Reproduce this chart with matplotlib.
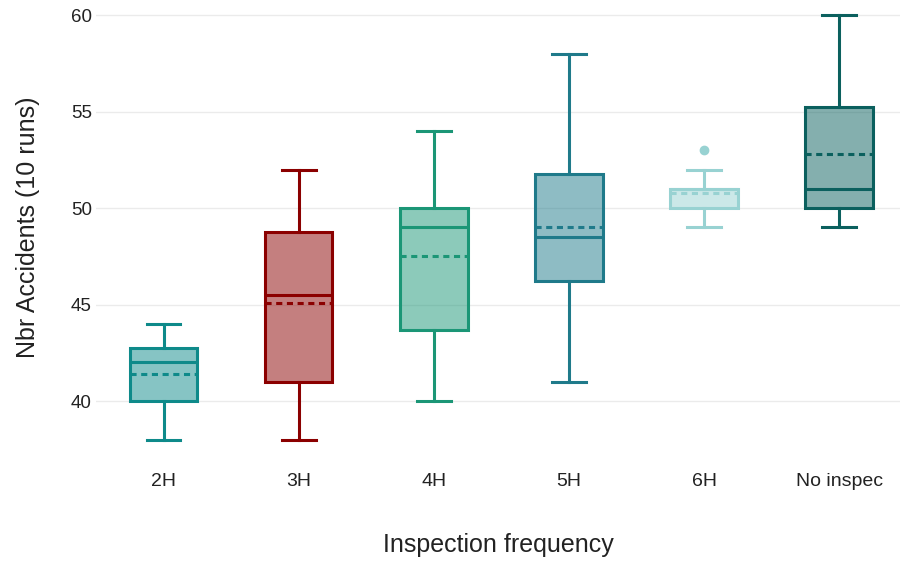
import matplotlib
matplotlib.use("Agg")
import matplotlib.pyplot as plt
from matplotlib.colors import to_rgba

categories = ["2H", "3H", "4H", "5H", "6H", "No inspec"]
whislo = [38, 38, 40, 41, 49, 49]
q1 = [40, 41, 43.7, 46.2, 50, 50]
med = [42, 45.5, 49, 48.5, 51, 51]
mean = [41.4, 45.1, 47.5, 49.0, 50.8, 52.8]
q3 = [42.75, 48.75, 50, 51.75, 51, 55.25]
whishi = [44, 52, 54, 58, 52, 60]
outliers = [[], [], [], [], [53], []]
colors = ["#0e8a8a", "#8b0000", "#1b9676", "#1f7a8a", "#98d2d2", "#0b605e"]

plt.rcParams['font.family'] = ['Liberation Sans', 'DejaVu Sans']

fig = plt.figure(figsize=(9, 5.63), dpi=100)
ax = fig.add_axes([96/900, (563-455)/563, 1 - 96/900, 455/563])

for i, cat in enumerate(categories):
    st = [dict(label=cat, whislo=whislo[i], q1=q1[i], med=med[i], mean=mean[i],
               q3=q3[i], whishi=whishi[i], fliers=outliers[i])]
    c = colors[i]
    ax.bxp(st, positions=[i], widths=0.5, patch_artist=True, showmeans=True, meanline=True,
           boxprops=dict(facecolor=to_rgba(c, 0.5), edgecolor=c, linewidth=2.2),
           medianprops=dict(color=c, linewidth=2.2),
           meanprops=dict(color=c, linewidth=2.2, linestyle=(0, (2, 1.5))),
           whiskerprops=dict(color=c, linewidth=2.2),
           capprops=dict(color=c, linewidth=2.2),
           capwidths=0.25,
           flierprops=dict(marker='o', markerfacecolor=c, markeredgecolor=c, markersize=6))

ax.set_xlim(-0.5, 5.45)
ax.set_ylim(37.2, 60.8)
ax.set_yticks([40, 45, 50, 55, 60])
ax.set_xticks(range(len(categories)))
ax.set_xticklabels(categories)
ax.grid(axis='y', color='#ebebeb', linewidth=1)
ax.set_axisbelow(True)
for s in ax.spines.values():
    s.set_visible(False)
ax.tick_params(axis='both', length=0, colors='#222222')
ax.tick_params(axis='y', labelsize=13.5, pad=3)
ax.tick_params(axis='x', labelsize=14, pad=13)
ax.set_xlabel("Inspection frequency", fontsize=18, color='#222222', labelpad=31)
ax.set_ylabel("Nbr Accidents (10 runs)", fontsize=18, color='#222222', labelpad=22)

fig.savefig("out.png", dpi=100)
